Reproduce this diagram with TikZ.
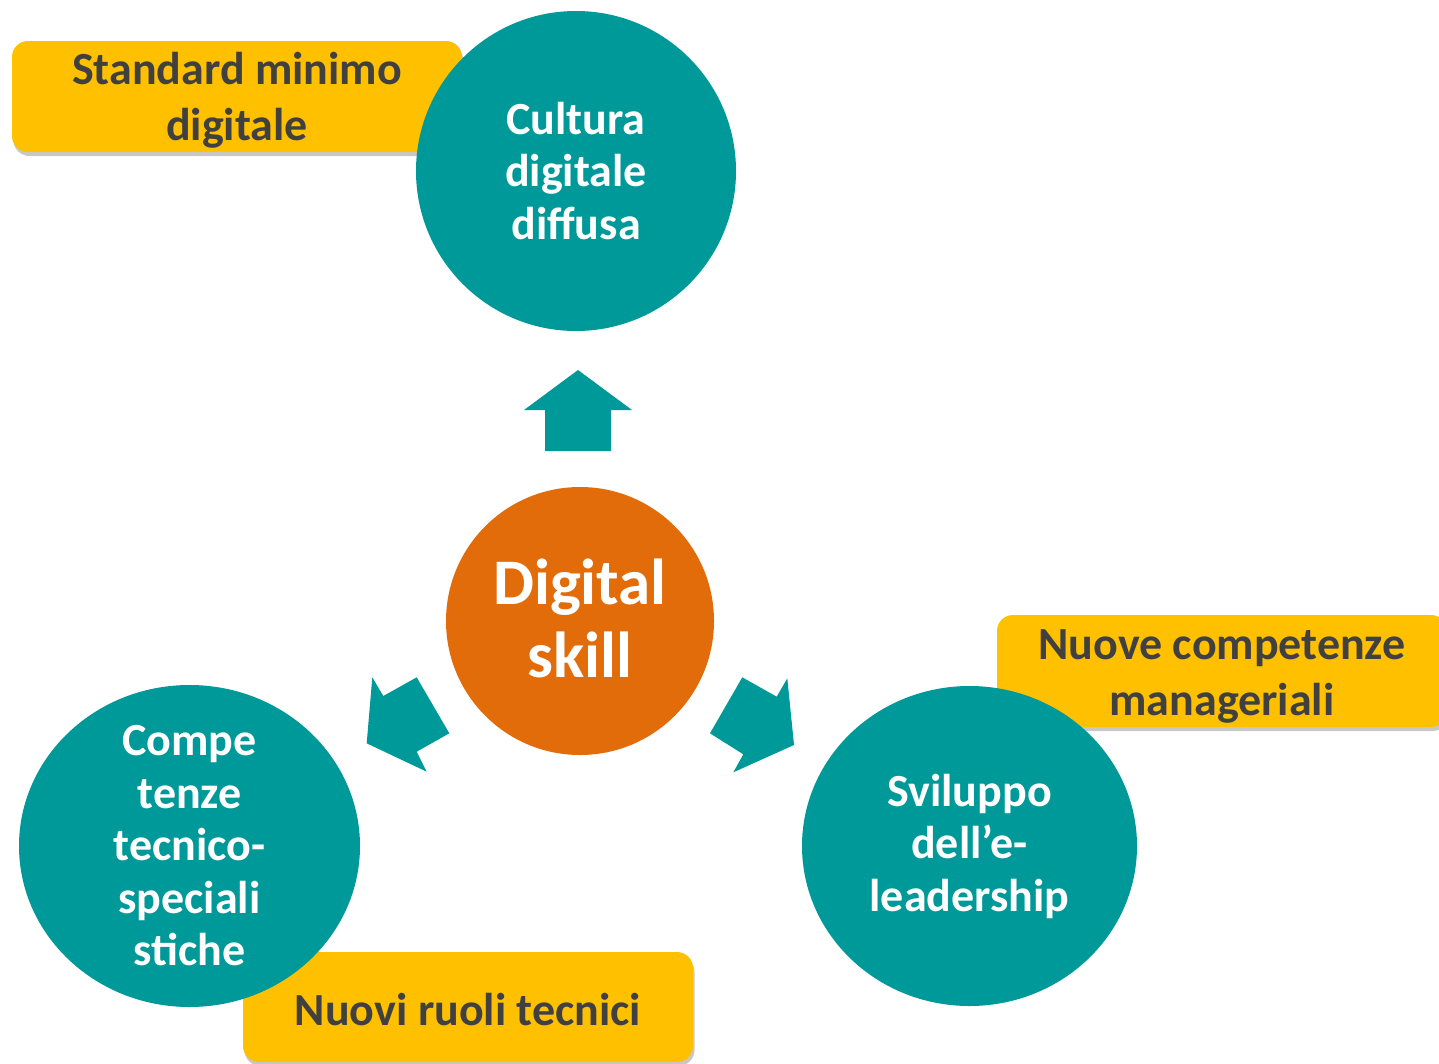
\documentclass[tikz,border=0pt]{standalone}
\usepackage{fontspec}
\setmainfont{Carlito}
\usetikzlibrary{shadows,shapes.geometric}
\definecolor{teal1}{RGB}{0,153,153}
\definecolor{orange1}{RGB}{227,108,10}
\definecolor{yellow1}{RGB}{255,192,0}
\definecolor{textgray}{RGB}{64,64,64}
\tikzset{
  labelbox/.style={fill=yellow1, rounded corners=16pt, inner sep=0pt,
    drop shadow={shadow xshift=1.5pt, shadow yshift=-4pt, opacity=0.22, fill=black}},
  labeltext/.style={align=center, text=textgray, inner sep=0pt,
    font=\bfseries\fontsize{46}{56}\selectfont},
  tealshape/.style={ellipse, fill=teal1, inner sep=0pt},
  tealtext/.style={align=center, text=white, inner sep=0pt,
    font=\bfseries\fontsize{46}{52.5}\selectfont},
  blockarrow/.style={fill=teal1, draw=none}
}
\begin{document}
\begin{tikzpicture}[x=1pt,y=-1pt]
\useasboundingbox (0,0) rectangle (1439,1063);
\fill[white] (0,0) rectangle (1439,1063);
% yellow label boxes
\node[labelbox, minimum width=450pt, minimum height=111pt] (std) at (237,96.5) {};
\node[labeltext] (stdtext) at (237,100) {Standard minimo\\digitale};
\node[labelbox, minimum width=450pt, minimum height=112pt] (mgr) at (1222,671) {};
\node[labeltext] (mgrtext) at (1222,676) {Nuove competenze\\manageriali};
\node[labelbox, minimum width=450pt, minimum height=110pt] (tec) at (468,1007) {};
\node[labeltext] (tectext) at (468,1010) {Nuovi ruoli tecnici};
% circles
\node[tealshape, minimum width=320pt, minimum height=320pt] (cult) at (576,171) {};
\node[tealtext] (culttext) at (576,171) {Cultura\\digitale\\diffusa};
\node[circle, fill=orange1, inner sep=0pt, minimum size=268pt] (dig) at (580,621) {};
\node[align=center, text=white, inner sep=0pt, font=\bfseries\fontsize{65}{73}\selectfont] (digtext) at (580,618) {Digital\\skill};
\node[tealshape, minimum width=341pt, minimum height=322pt] (comp) at (189.5,846) {};
\node[tealtext] (comptext) at (189.5,846) {Compe\\tenze\\tecnico-\\speciali\\stiche};
\node[tealshape, minimum width=335pt, minimum height=320pt] (svil) at (969.5,846) {};
\node[tealtext] (sviltext) at (969.5,846) {Sviluppo\\dell’e-\\leadership};
% block arrows
\fill[blockarrow] (578,370) -- (632,410) -- (611,410) -- (611,451) -- (545,451) -- (545,410) -- (524,410) -- cycle;
\fill[blockarrow] (372.3,677.3) -- (383.3,696) -- (416.7,677.3) -- (449.3,733.3) -- (416.7,751.7) -- (426.7,771.7) -- (366.7,743.3) -- cycle;
\fill[blockarrow] (742.3,677.3) -- (776.7,696.7) -- (787.3,678.3) -- (794,745) -- (733.3,772.3) -- (743.3,754.3) -- (710,733.3) -- cycle;
\end{tikzpicture}
\end{document}
